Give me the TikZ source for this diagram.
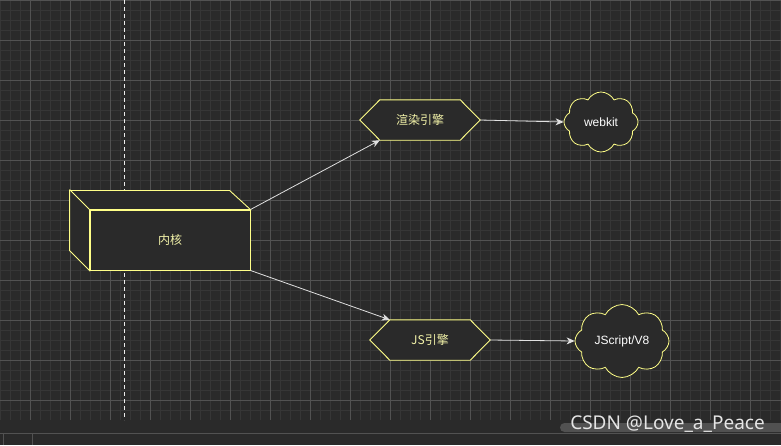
\documentclass[tikz,border=0pt]{standalone}
\usepackage{fontspec}
\setmainfont{Liberation Sans}
\newfontfamily\cjk{Noto Sans CJK SC}
\newfontfamily\wmfont{Noto Sans}
\usetikzlibrary{shapes.symbols,arrows.meta,calc}
\definecolor{bgc}{HTML}{2A2A2A}
\definecolor{minorc}{HTML}{363636}
\definecolor{majorc}{HTML}{525252}
\definecolor{shapec}{HTML}{FFFF88}
\definecolor{txtc}{HTML}{F2F2A8}
\definecolor{arrc}{HTML}{E0E0E0}
\tikzset{
  shapebox/.style={draw=shapec,fill=bgc,line width=0.9pt,font=\cjk\fontsize{12}{14}\selectfont,text=txtc},
  hexbox/.style={minimum width=120pt,minimum height=40pt,inner sep=0pt,font=\cjk\fontsize{12}{14}\selectfont,text=txtc},
  cloudbox/.style={cloud,cloud puffs=8,cloud puff arc=125,aspect=1.3,draw=shapec,fill=bgc,line width=0.8pt,inner sep=0pt,text=white,font=\fontsize{12}{14}\selectfont},
  conn/.style={draw=arrc,line width=0.8pt,-{Stealth[length=8pt,width=7pt,inset=2.5pt]}}
}
\begin{document}
\begin{tikzpicture}[x=1pt,y=-1pt]
\useasboundingbox (0,0) rectangle (781,445);
\fill[bgc] (0,0) rectangle (781,445);
% grid
\foreach \i in {0,...,78} {\draw[minorc,line width=0.6pt] (\i*10,0) -- (\i*10,420);}
\foreach \j in {0,...,42} {\draw[minorc,line width=0.6pt] (0,\j*10) -- (781,\j*10);}
\foreach \i in {0,...,18} {\draw[majorc,line width=0.7pt] (30+\i*40,0) -- (30+\i*40,420);}
\foreach \j in {0,...,10} {\draw[majorc,line width=0.7pt] (0,\j*40) -- (781,\j*40);}
\fill[bgc] (0,420) rectangle (781,445);
\draw[majorc,line width=0.8pt] (0,433) -- (781,433);
\draw[majorc,line width=0.8pt] (3,433) -- (3,445);
\draw[majorc,line width=0.8pt] (32,433) -- (32,445);
% dashed guide
\draw[white!85!gray,line width=0.8pt,dash pattern=on 4pt off 3pt] (124.5,0) -- (124.5,420);
% cube
\node[shapebox,minimum width=160pt,minimum height=60pt,inner sep=0pt] (core) at (170,240) {内核};
\filldraw[draw=shapec,fill=bgc,line width=0.9pt,line join=miter] (core.south west) -- ++(-20,-20) -- ++(0,-60) -- ++(160,0) -- (core.north east) -- (core.north west) -- cycle;
\draw[draw=shapec,line width=0.9pt] (core.north west) -- ++(-20,-20);
% hexagons
\node[hexbox] (h1) at (420,120) {};
\filldraw[draw=shapec,fill=bgc,line width=0.9pt] (h1.west) -- ([xshift=20pt]h1.north west) -- ([xshift=-20pt]h1.north east) -- (h1.east) -- ([xshift=-20pt]h1.south east) -- ([xshift=20pt]h1.south west) -- cycle;
\node[hexbox] at (h1) {渲染引擎};
\node[hexbox] (h2) at (430,340) {};
\filldraw[draw=shapec,fill=bgc,line width=0.9pt] (h2.west) -- ([xshift=20pt]h2.north west) -- ([xshift=-20pt]h2.north east) -- (h2.east) -- ([xshift=-20pt]h2.south east) -- ([xshift=20pt]h2.south west) -- cycle;
\node[hexbox] at (h2) {JS引擎};
% clouds
\node[cloudbox,minimum width=74pt,minimum height=60pt] (c1) at (601,122) {webkit};
\node[cloudbox,minimum width=94pt,minimum height=70pt] (c2) at (622,341) {JScript/V8};
% connectors
\draw[conn] (core.north east) -- ([xshift=20pt]h1.south west);
\draw[conn] (core.south east) -- ([xshift=20pt]h2.north west);
\draw[conn] (h1.east) -- (c1.west);
\draw[conn] (h2.east) -- (c2.west);
% watermark
\fill[gray!45!bgc,rounded corners=4.5pt] (560,423) rectangle (790,432);
\node[text=white!80!gray,font=\wmfont\fontsize{19}{21}\selectfont,inner sep=0pt] (wm) at (667.5,424) {CSDN @Love\_a\_Peace};
\end{tikzpicture}
\end{document}
